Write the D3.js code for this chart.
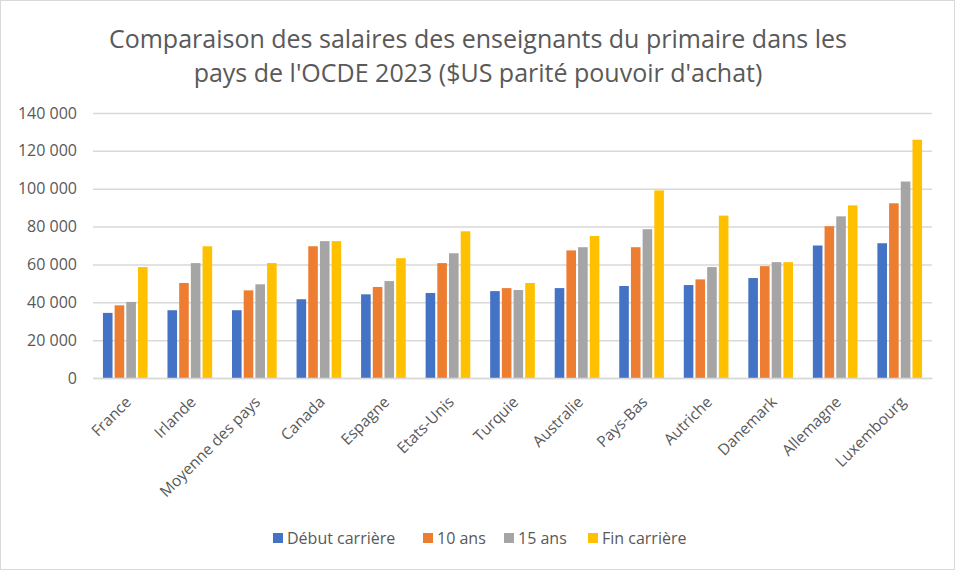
<!DOCTYPE html>
<html><head><meta charset="utf-8">
<script src="https://cdn.jsdelivr.net/npm/d3@7"></script>
<style>body{margin:0;background:#fff}svg{display:block}</style>
</head><body>
<svg id="c" width="955" height="570"></svg>
<script>
const categories = ["France","Irlande","Moyenne des pays","Canada","Espagne","Etats-Unis","Turquie","Australie","Pays-Bas","Autriche","Danemark","Allemagne","Luxembourg"];
const seriesNames = ["Début carrière","10 ans","15 ans","Fin carrière"];
const debut = [34400,35800,35800,41600,44200,44900,45900,47500,48600,49100,52800,70000,71200];
const dix = [38400,50200,46300,69600,48100,60700,47500,67400,69100,52100,59100,80200,92300];
const quinze = [40200,60700,49500,72300,51200,65900,46500,69100,78600,58600,61200,85400,103800];
const fin = [58600,69600,60700,72300,63300,77500,50200,75000,99100,85800,61200,91200,125900];
const yTicks = [0,20000,40000,60000,80000,100000,120000,140000];
const colors = ["#4472C4","#ED7D31","#A5A5A5","#FFC000"];
const series = [debut,dix,quinze,fin];

const svg = d3.select("#c");
svg.append("rect").attr("x",0.5).attr("y",0.5).attr("width",954).attr("height",569).attr("fill","#fff").attr("stroke","#d9d9d9");

const fontF = "'Open Sans', 'Segoe UI', sans-serif";
const txt = "#595959";

svg.append("text").attr("x",478).attr("y",48).attr("text-anchor","middle").attr("font-family",fontF).attr("font-size",25).attr("fill",txt).text("Comparaison des salaires des enseignants du primaire dans les");
svg.append("text").attr("x",478).attr("y",82).attr("text-anchor","middle").attr("font-family",fontF).attr("font-size",25).attr("fill",txt).text("pays de l'OCDE 2023 ($US parité pouvoir d'achat)");

const x0 = d3.scaleBand().domain(categories).range([93,932]).paddingInner(0).paddingOuter(0);
const x1 = d3.scaleBand().domain(seriesNames).range([0,x0.bandwidth()]).paddingInner(0.18).paddingOuter(0.85);
const y = d3.scaleLinear().domain([0,140000]).range([378,113]);

const fmt = v => d3.format(",")(v).replace(/,/g," ");

const ga = svg.append("g").attr("transform","translate(93,0)")
  .call(d3.axisLeft(y).tickValues(yTicks).tickSize(-(932-93)).tickFormat(fmt).tickPadding(16));
ga.select(".domain").remove();
ga.selectAll(".tick line").attr("stroke","#d9d9d9").attr("stroke-width",1.5);
ga.selectAll(".tick text").attr("font-family",fontF).attr("font-size",16).attr("fill",txt);

const g = svg.append("g");
categories.forEach((c,i)=>{
  series.forEach((s,j)=>{
    g.append("rect").attr("x",x0(c)+x1(seriesNames[j])).attr("width",x1.bandwidth())
      .attr("y",y(s[i])).attr("height",y(0)-y(s[i])).attr("fill",colors[j]);
  });
});

const gx = svg.append("g").attr("transform","translate(0,378)")
  .call(d3.axisBottom(x0).tickSize(0).tickPadding(0));
gx.select(".domain").attr("stroke","#d9d9d9").attr("stroke-width",1.5);
gx.selectAll(".tick text").attr("font-family",fontF).attr("font-size",15.5).attr("fill",txt)
  .attr("text-anchor","end").attr("dy",0).attr("transform","translate(7,25) rotate(-45)");

const legX = [273,423,504,588];
const leg = svg.append("g");
seriesNames.forEach((n,j)=>{
  leg.append("rect").attr("x",legX[j]).attr("y",533).attr("width",10).attr("height",10).attr("fill",colors[j]);
  leg.append("text").attr("x",legX[j]+14).attr("y",544).attr("font-family",fontF).attr("font-size",16).attr("fill",txt).text(n);
});
</script>
</body></html>
